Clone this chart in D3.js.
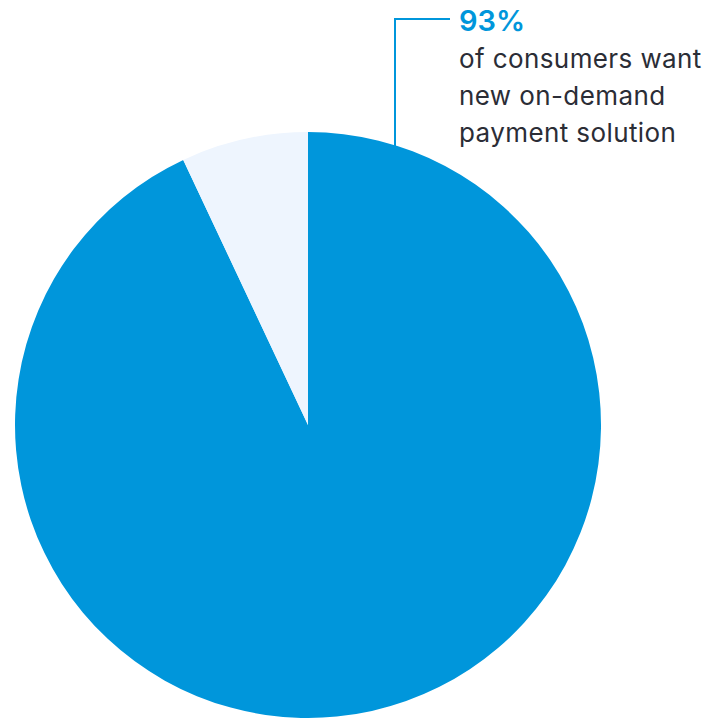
<!DOCTYPE html>
<html>
<head>
<meta charset="utf-8">
<script src="https://cdn.jsdelivr.net/npm/d3@7"></script>
<style>
  html, body { margin: 0; padding: 0; background: #ffffff; }
  svg { display: block; }
</style>
</head>
<body>
<svg id="chart" width="718" height="718"></svg>
<script>
// Share of consumers wanting a new on-demand payment solution
const categories = ["Want new solution", "Do not"];
const values = [93, 7];
const colors = ["#0096DB", "#EEF5FE"];
const calloutValue = "93%";
const calloutLines = ["of consumers want", "new on-demand", "payment solution"];

const svg = d3.select("#chart");
const cx = 308, cy = 425, r = 293;

const pie = d3.pie().sort(null).startAngle(0).endAngle(2 * Math.PI);
const arcs = pie(values);
const arc = d3.arc().innerRadius(0).outerRadius(r);

const g = svg.append("g").attr("transform", `translate(${cx},${cy})`);
g.selectAll("path")
  .data(arcs)
  .join("path")
  .attr("d", arc)
  .attr("fill", (d, i) => colors[i]);

// Callout leader line from the blue slice up to the label
const lineX = 395, lineTop = 19, lineEnd = 450;
const lineBottom = cy - Math.sqrt(r * r - (lineX - cx) * (lineX - cx)) + 8;
svg.append("path")
  .attr("d", `M${lineX},${lineBottom}V${lineTop}H${lineEnd}`)
  .attr("fill", "none")
  .attr("stroke", colors[0])
  .attr("stroke-width", 2);

const textX = 459;
svg.append("text")
  .attr("x", textX)
  .attr("y", 31)
  .attr("font-family", "Inter, 'Noto Sans', sans-serif")
  .attr("font-weight", 600)
  .attr("font-size", 29)
  .attr("fill", colors[0])
  .text(calloutValue);

svg.append("g")
  .selectAll("text")
  .data(calloutLines)
  .join("text")
  .attr("x", textX)
  .attr("y", (d, i) => 68 + i * 37)
  .attr("font-family", "Inter, 'Noto Sans', sans-serif")
  .attr("font-size", 26)
  .attr("letter-spacing", 0.4)
  .attr("fill", "#2B2D36")
  .text(d => d);
</script>
</body>
</html>
